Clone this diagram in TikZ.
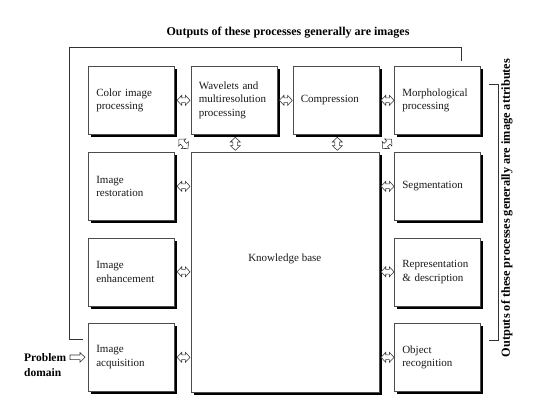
\documentclass[tikz,border=0pt]{standalone}
\usepackage{fontspec}
\setmainfont{Liberation Serif}
\usetikzlibrary{shadows,calc}
\begin{document}
\begin{tikzpicture}[x=1pt,y=-1pt,
  procbox/.style={draw=black!70, line width=0.6pt, fill=white,
    drop shadow={shadow xshift=3pt, shadow yshift=-3pt, fill=black, opacity=1},
    minimum width=86pt, minimum height=68pt, text width=70pt,
    inner xsep=8pt, inner ysep=0pt, align=left, anchor=north west,
    font=\fontsize{11}{13.5}\selectfont, text=black!90},
  kbbox/.style={draw=black!70, line width=0.6pt, fill=white,
    drop shadow={shadow xshift=3pt, shadow yshift=-3pt, fill=black, opacity=1},
    minimum width=188pt, minimum height=240pt, inner sep=0pt, anchor=north west},
  arrline/.style={draw=black!80, fill=white, line width=0.55pt, line join=miter},
  fbline/.style={draw=black!80, line width=0.6pt},
  boldlabel/.style={font=\bfseries\fontsize{12}{14}\selectfont, inner sep=0pt},
  biarr/.pic={\path[arrline] (-6.5,0) -- (-1.8,-5) -- (-1.8,-2.4) -- (1.8,-2.4) -- (1.8,-5)
      -- (6.5,0) -- (1.8,5) -- (1.8,2.4) -- (-1.8,2.4) -- (-1.8,5) -- cycle;},
  onearr/.pic={\path[arrline] (-7.5,-2.3) -- (2.5,-2.3) -- (2.5,-4.8) -- (7.5,0) -- (2.5,4.8)
      -- (2.5,2.3) -- (-7.5,2.3) -- cycle;}
]
\useasboundingbox (0,0) rectangle (540,412);

% top row
\node[procbox] (color) at (88,66) {Color image\\processing};
\node[procbox] (wave) at (190.5,66) {Wavelets and\\multiresolution\\processing};
\node[procbox] (comp) at (292.5,66) {Compression};
\node[procbox] (morph) at (394,66) {Morphological\\processing};

% left column
\node[procbox] (rest) at (88,152) {Image\\restoration};
\node[procbox] (enh) at (88,237.5) {Image\\enhancement};
\node[procbox] (acq) at (88,323) {Image\\acquisition};

% right column
\node[procbox] (seg) at (394,152) {Segmentation};
\node[procbox] (repr) at (394,237.5) {Representation\\\& description};
\node[procbox] (objrec) at (394,323) {Object\\recognition};

% knowledge base
\node[kbbox] (kb) at (190.5,152) {};
\node[font=\fontsize{11}{13.5}\selectfont, text=black!90] (kbtext) at ($(kb.center)+(0,-13)$) {Knowledge base};

% horizontal arrows in top row
\pic at ($(color.east)!0.5!(wave.west)+(1,0)$) {biarr};
\pic at ($(wave.east)!0.5!(comp.west)+(1,0)$) {biarr};
\pic at ($(comp.east)!0.5!(morph.west)+(1,0)$) {biarr};

% vertical arrows
\pic[rotate=90] at ($(wave.south)!0.5!(wave.south|-kb.north)+(1.5,0.5)$) {biarr};
\pic[rotate=90] at ($(comp.south)!0.5!(comp.south|-kb.north)+(1.5,0.5)$) {biarr};

% diagonal arrows
\pic[rotate=-45] at ($(color.south east)!0.5!(kb.north west)+(1,0.5)$) {biarr};
\pic[rotate=45] at ($(morph.south west)!0.5!(kb.north east)+(0.5,0.5)$) {biarr};

% side arrows
\pic at ($(rest.east)!0.5!(rest.east-|kb.west)+(1,0)$) {biarr};
\pic at ($(enh.east)!0.5!(enh.east-|kb.west)+(1,0)$) {biarr};
\pic at ($(acq.east)!0.5!(acq.east-|kb.west)+(1,0)$) {biarr};
\pic at ($(seg.west)!0.5!(seg.west-|kb.east)+(1,0)$) {biarr};
\pic at ($(repr.west)!0.5!(repr.west-|kb.east)+(1,0)$) {biarr};
\pic at ($(objrec.west)!0.5!(objrec.west-|kb.east)+(1,0)$) {biarr};

% problem domain
\node[font=\bfseries\fontsize{11.5}{15}\selectfont, align=left, anchor=west, inner sep=0pt] (prob) at (24,365) {Problem\\domain};
\pic at ($(acq.west)+(-10.5,0)$) {onearr};

% feedback line (outputs are images)
\coordinate (fbstart) at ($(acq.north west)+(-5,16)$);
\coordinate (fbcorner) at (69,47);
\coordinate (fbend) at ($(morph.north west)+(67,-5)$);
\draw[fbline] (fbstart) -| (fbcorner) -| (fbend);
\node[boldlabel] (toplabel) at (288,33) {Outputs of these processes generally are images};

% bracket (outputs are image attributes)
\coordinate (brtop) at ($(morph.north east)+(8,18)$);
\coordinate (brbot) at ($(objrec.north east)+(8,17)$);
\draw[fbline] (brtop) -- ++(10,0) |- (brbot);
\node[boldlabel, rotate=90, font=\bfseries\fontsize{12.3}{14}\selectfont] (sidelabel) at (507,208) {Outputs of these processes generally are image attributes};
\end{tikzpicture}
\end{document}
